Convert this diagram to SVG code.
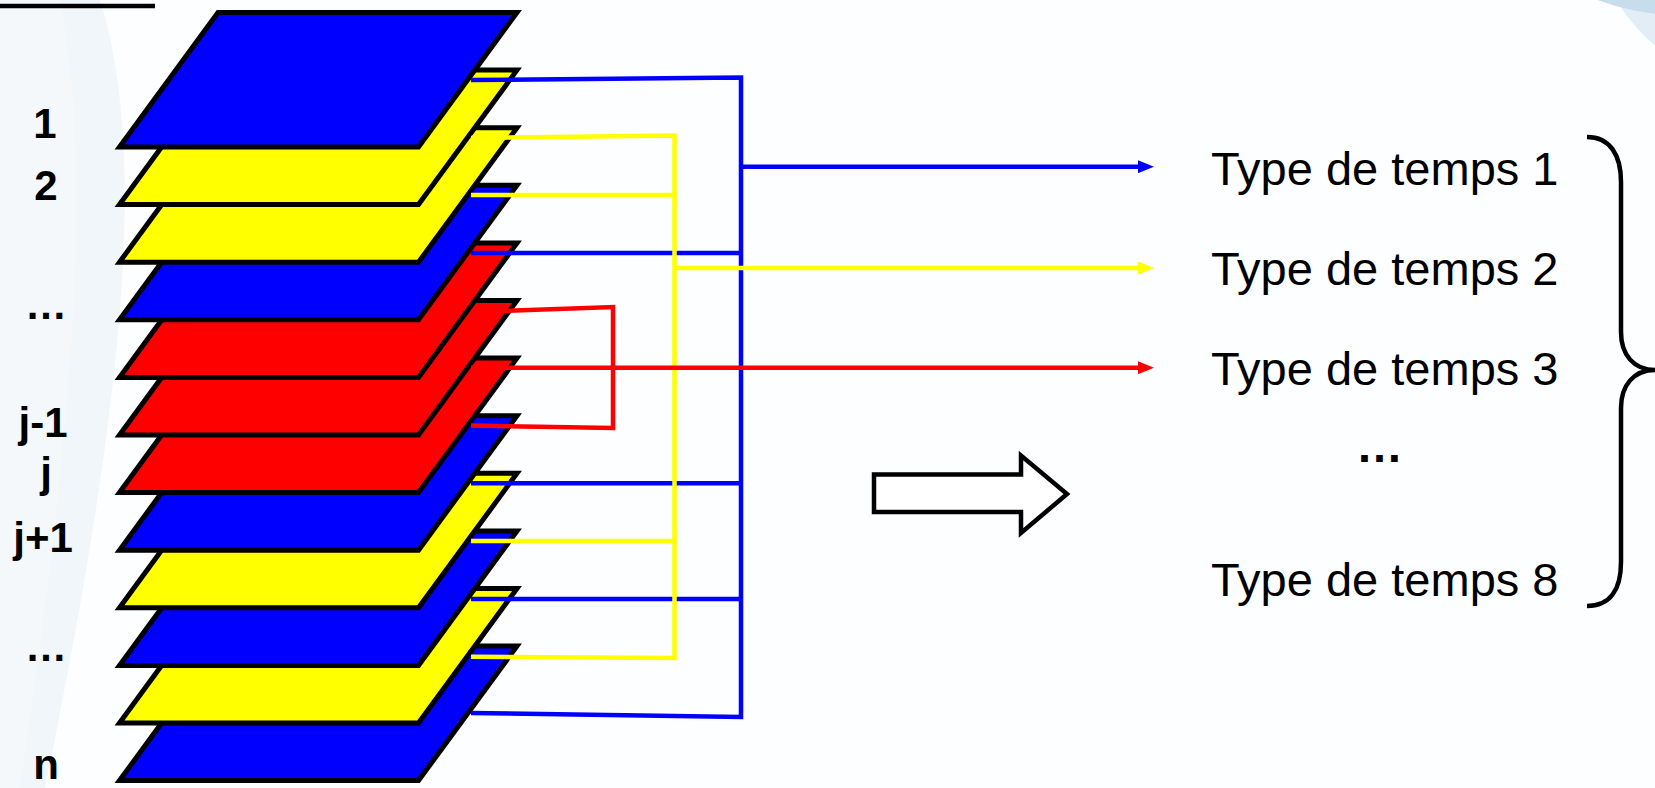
<svg xmlns="http://www.w3.org/2000/svg" width="1655" height="788" viewBox="0 0 1655 788">
<style>
.plate{stroke:#000;stroke-width:5;stroke-linejoin:miter;stroke-miterlimit:10}
.b{fill:#0000FF}.y{fill:#FFFF00}.r{fill:#FF0000}
.lbl{font-family:"Liberation Sans",Arial,sans-serif;font-weight:bold;font-size:42px;fill:#000;text-anchor:middle}
.typ{font-family:"Liberation Sans",Arial,sans-serif;font-size:47px;fill:#000}
.bus{fill:none;stroke-width:4.5;stroke-linejoin:miter}
.sb{stroke:#0000FF}.sy{stroke:#FFFF00}.sr{stroke:#FF0000}
</style>
<defs>
<marker id="ab" markerUnits="userSpaceOnUse" markerWidth="16" markerHeight="13" refX="0" refY="6.5" orient="auto"><path d="M0,0 L16,6.5 L0,13 Z" fill="#0000FF"/></marker>
<marker id="ay" markerUnits="userSpaceOnUse" markerWidth="16" markerHeight="13" refX="0" refY="6.5" orient="auto"><path d="M0,0 L16,6.5 L0,13 Z" fill="#FFFF00"/></marker>
<marker id="ar" markerUnits="userSpaceOnUse" markerWidth="16" markerHeight="13" refX="0" refY="6.5" orient="auto"><path d="M0,0 L16,6.5 L0,13 Z" fill="#FF0000"/></marker>
</defs>
<g id="background">
<rect x="0" y="0" width="1655" height="788" fill="#FDFEFF"/>
<path d="M0,0 L100,0 C150,160 120,420 45,788 L0,788 Z" fill="#F0F6FA"/>
<path d="M0,0 L60,0 C95,180 70,450 20,788 L0,788 Z" fill="#F4F8FB"/>
<circle cx="1790" cy="-110" r="206" fill="#E2EDF6"/>
<circle cx="1680" cy="-220" r="235" fill="#C8DDEC"/>
<line x1="0" y1="6" x2="155" y2="6" stroke="#000" stroke-width="4.5"/>
</g>
<g id="layers">
<g id="layer-12"><polygon class="plate b" points="218,646.1 517,646.1 418.5,780.6 119.5,780.6"/></g>
<g id="layer-11"><polygon class="plate y" points="218,588.5 517,588.5 418.5,723 119.5,723"/></g>
<g id="layer-10"><polygon class="plate b" points="218,530.9 517,530.9 418.5,665.4 119.5,665.4"/></g>
<g id="layer-9"><polygon class="plate y" points="218,473.3 517,473.3 418.5,607.8 119.5,607.8"/></g>
<g id="layer-8"><polygon class="plate b" points="218,415.7 517,415.7 418.5,550.2 119.5,550.2"/></g>
<g id="layer-7"><polygon class="plate r" points="218,358.1 517,358.1 418.5,492.6 119.5,492.6"/></g>
<g id="layer-6"><polygon class="plate r" points="218,300.5 517,300.5 418.5,435 119.5,435"/></g>
<g id="layer-5"><polygon class="plate r" points="218,242.9 517,242.9 418.5,377.4 119.5,377.4"/></g>
<g id="layer-4"><polygon class="plate b" points="218,185.3 517,185.3 418.5,319.8 119.5,319.8"/></g>
<g id="layer-3"><polygon class="plate y" points="218,127.7 517,127.7 418.5,262.2 119.5,262.2"/></g>
<g id="layer-2"><polygon class="plate y" points="218,70.1 517,70.1 418.5,204.6 119.5,204.6"/></g>
<g id="layer-1"><polygon class="plate b" points="218,12.5 517,12.5 418.5,147 119.5,147"/></g>
</g>
<g id="labels">
<text class="lbl" x="45" y="138">1</text>
<text class="lbl" x="46" y="200">2</text>
<text class="lbl" x="46" y="319">…</text>
<text class="lbl" x="43" y="437">j-1</text>
<text class="lbl" x="46" y="487">j</text>
<text class="lbl" x="43" y="552">j+1</text>
<text class="lbl" x="46" y="661">…</text>
<text class="lbl" x="46" y="779">n</text>
</g>
<g id="connectors">
<path class="bus sb" d="M471,80 L741,77.5 L741,717 L471,713 M471,253 H741 M471,483.3 H741 M471,599 H741"/>
<path class="bus sb" d="M741,166.7 H1138" marker-end="url(#ab)"/>
<path class="bus sy" d="M471,138 L674.5,135.5 L674.5,658 L471,656.7 M471,195 H674.5 M471,541 H674.5"/>
<path class="bus sy" d="M674.5,268 H1138" marker-end="url(#ay)"/>
<path class="bus sr" d="M471,312 L613,307 L613,428 L471,425.5"/>
<path class="bus sr" d="M471,367.7 H1138" marker-end="url(#ar)"/>
</g>
<g id="big-arrow">
<polygon points="874,474.5 1021,474.5 1021,455.5 1067,494 1021,533 1021,512 874,512" fill="#FFFFFF" stroke="#000" stroke-width="4.5" stroke-linejoin="miter"/>
</g>
<g id="types">
<text class="typ" x="1211" y="185">Type de temps 1</text>
<text class="typ" x="1211" y="285">Type de temps 2</text>
<text class="typ" x="1211" y="385">Type de temps 3</text>
<text class="typ" x="1379.5" y="461.5" text-anchor="middle" font-weight="bold">…</text>
<text class="typ" x="1211" y="596">Type de temps 8</text>
</g>
<g id="brace">
<path d="M1587,137 C1610,137 1621,155 1621,182 L1621,332 C1621,355 1634,370 1655,370 C1634,370 1621,385 1621,408 L1621,562 C1621,590 1610,606 1587,606" fill="none" stroke="#000" stroke-width="4.5"/>
</g>
</svg>
